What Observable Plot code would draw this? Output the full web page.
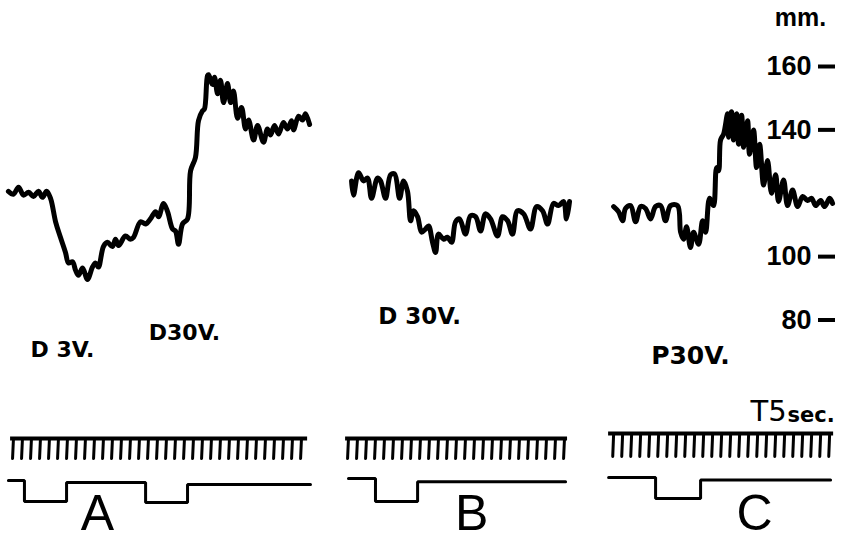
<!DOCTYPE html>
<html>
<head>
<meta charset="utf-8">
<script src="https://cdn.jsdelivr.net/npm/d3@7"></script>
<script src="https://cdn.jsdelivr.net/npm/@observablehq/plot@0.6"></script>
<style>
  html, body { margin: 0; padding: 0; background: #fff; }
  #chart { width: 845px; height: 540px; overflow: hidden; }
  #chart svg { display: block; background: #fff; }
</style>
</head>
<body>
<div id="chart"></div>
<script>
// ---------- data ----------
const panels = ["A", "B", "C"];
const panelOffset = [0, 185, 330];           // start of each recording on the shared time axis (s)

// blood-pressure traces: local time (s) and pressure (mm Hg)
const traceA_t = [4.4,7.2,10.0,12.8,15.6,18.3,21.1,23.3,25.6,27.8,30.6,33.3,36.1,37.8,40.0,41.7,43.3,45.6,48.3,51.1,52.8,54.4,57.2,59.4,62.2,63.9,65.6,69.4,72.2,73.9,77.8,80.6,83.3,86.1,87.8,90.6,92.8,95.6,97.2,98.9,101.1,103.9,105.6,108.3,110.0,112.2,113.3,115.0,115.6,117.8,118.9,120.6,122.2,123.9,126.1,127.8,129.4,131.7,133.9,136.1,137.8,140.6,142.8,146.1,148.3,150.0,152.2,154.4,157.2,159.4,161.7,162.8,165.6,167.8,169.4,171.7];
const traceA_mm = [120.6,119.7,121.9,119.4,120.3,119.0,120.6,118.7,120.6,118.4,111.0,106.1,101.3,98.0,98.4,95.7,94.1,96.4,92.8,96.7,98.0,96.7,103.2,104.5,103.2,105.5,103.5,106.5,105.5,106.1,111.0,110.3,111.9,114.2,112.6,116.8,114.2,108.7,108.1,103.9,110.3,111.9,127.1,131.3,142.9,146.0,146.6,157.1,157.4,154.3,156.6,151.4,155.7,148.6,154.6,148.6,152.3,143.7,147.1,140.3,143.1,136.8,141.4,136.1,140.3,138.4,141.4,138.7,142.3,140.3,142.9,140.0,144.3,143.1,145.1,141.7];

const traceB_t = [10.0,11.1,13.9,16.7,18.9,21.1,24.4,26.1,28.9,31.7,33.9,36.7,38.9,41.1,42.8,44.4,46.7,48.9,51.1,52.8,55.0,56.7,58.3,61.1,63.3,65.6,67.8,70.0,73.3,76.1,78.9,81.7,84.4,87.2,91.1,93.9,96.7,99.4,102.2,105.6,109.4,112.8,116.1,118.9,122.2,125.0,127.8,129.4,131.1];
const traceB_mm = [123.9,119.4,126.5,123.9,124.8,118.4,124.8,123.9,118.4,125.8,126.1,118.4,123.9,120.6,111.3,114.5,112.6,107.7,108.7,109.7,104.5,101.3,107.1,105.5,106.1,104.5,111.0,111.9,107.1,112.9,112.6,108.1,113.5,111.9,106.5,112.6,111.3,107.1,114.5,113.5,108.7,115.8,114.5,110.3,116.8,116.1,117.4,111.9,117.4];

const traceC_t = [10.6,13.3,15.6,17.2,20.0,22.8,25.6,28.3,31.1,33.9,36.7,39.4,42.2,46.1,47.8,49.4,51.1,53.3,55.0,57.8,60.0,61.7,63.9,66.1,67.8,68.9,70.0,71.7,73.9,74.4,76.1,77.2,78.9,80.0,81.7,82.8,85.0,86.1,88.3,90.0,91.7,93.9,96.1,98.3,100.6,102.2,105.0,107.2,110.0,112.8,115.6,118.3,120.6,122.8,125.6,127.8,130.6,132.2];
const traceC_mm = [115.8,114.2,111.3,115.2,116.1,111.0,115.8,115.2,111.9,115.8,116.1,111.3,116.1,116.1,107.7,105.5,109.4,102.9,107.7,103.9,111.3,107.7,118.4,116.1,128.1,127.1,136.8,138.7,145.1,137.7,145.7,136.8,145.1,135.5,144.6,134.5,142.9,132.3,140.0,128.1,135.5,122.6,130.3,120.0,125.8,117.4,124.2,116.1,121.0,115.8,119.0,117.7,118.4,116.1,117.7,115.8,118.4,116.8];

// pressure axis
const yTicks = [80, 100, 140, 160];

// stimulus signal (step trace): event times (s) and signal level (1 = off, 0 = on)
const stimA_t = [4.4, 13.3, 36.7, 80.6, 103.9, 172.2];
const stimA_v = [1.03, 0.05, 0.94, 0.0, 0.84, 0.84];
const stimB_t = [8.3, 23.3, 46.7, 128.9];
const stimB_v = [1.13, 0.05, 0.97, 0.97];
const stimC_t = [7.8, 33.9, 58.9, 131.1];
const stimC_v = [1.17, 0.19, 1.05, 1.05];

// time marker (every 5 s)
const markerStep = 5;
const markerFirst = [7.2, 8.3, 10.6];
const markerCount = [33, 25, 25];
const markerLineStart = [5.6, 6.7, 7.8];
const markerLineEnd = [170.6, 130.0, 132.8];
const markerTop = [3.0, 3.0, 3.23];
const markerBottom = [2.06, 2.06, 2.16];

// annotations
const stimLabels = ["D 3V.", "D30V.", "D 30V.", "P30V."];
const stimLabelPanel = [0, 0, 1, 2];
const stimLabelT = [34.4, 102.2, 47.8, 53.3];
const stimLabelMm = [70.4, 75.8, 81.1, 68.5];
const stimLabelSize = [22, 22, 23, 25];
const letterT = [53.9, 76.7, 88.9];

// ---------- build tables ----------
const traces = [[traceA_t, traceA_mm], [traceB_t, traceB_mm], [traceC_t, traceC_mm]];
const traceData = traces.flatMap(([ts, ms], p) =>
  ts.map((t, i) => ({panel: panels[p], time: panelOffset[p] + t, mm: ms[i]})));

const stims = [[stimA_t, stimA_v], [stimB_t, stimB_v], [stimC_t, stimC_v]];
const stimData = stims.flatMap(([ts, vs], p) =>
  ts.map((t, i) => ({panel: panels[p], time: panelOffset[p] + t, level: vs[i]})));

const markerTicks = panels.flatMap((name, p) =>
  d3.range(markerCount[p]).map(k => ({
    panel: name,
    time: panelOffset[p] + markerFirst[p] + k * markerStep,
    top: markerTop[p], bottom: markerBottom[p]
  })));
const markerLines = panels.map((name, p) => ({
  panel: name, t1: panelOffset[p] + markerLineStart[p], t2: panelOffset[p] + markerLineEnd[p], level: markerTop[p]
}));

const labelData = stimLabels.map((s, i) => ({
  text: s, time: panelOffset[stimLabelPanel[i]] + stimLabelT[i], mm: stimLabelMm[i], size: stimLabelSize[i]
}));

const panelLetters = panels.map((name, p) => ({
  text: name, time: panelOffset[p] + letterT[p], level: -1.27
}));

const FONT = "DejaVu Sans, Liberation Sans, sans-serif";
const NUMFONT = "Liberation Sans, Arial, sans-serif";

// ---------- top: pressure traces ----------
const topPlot = Plot.plot({
  width: 845, height: 380,
  marginLeft: 0, marginRight: 0, marginTop: 0, marginBottom: 0,
  style: {fontFamily: FONT, background: "#fff", color: "#000"},
  x: {domain: [0, 469.4], range: [0, 845], axis: null},
  y: {domain: [80, 160], range: [319.5, 66], label: null},
  marks: [
    Plot.axisY(yTicks, {
      anchor: "left", dx: 835, tickSize: 17, tickPadding: 7, strokeWidth: 4,
      fontSize: 27, fontWeight: "bold", fontFamily: NUMFONT, label: null, tickFormat: d => String(d)
    }),
    Plot.text(["mm."], {x: [panelOffset[2] + 114.4], y: [175.4], text: d => d,
      fontSize: 25, fontWeight: "bold", fontFamily: NUMFONT, fill: "#000"}),
    Plot.line(traceData, {
      x: "time", y: "mm", z: "panel", stroke: "#000", strokeWidth: 5,
      curve: "catmull-rom", strokeLinejoin: "round", strokeLinecap: "round"
    }),
    Plot.text(labelData, {x: "time", y: "mm", text: "text", fontSize: d => d.size,
      fontWeight: "bold", fill: "#000"})
  ]
});

// ---------- bottom: time marker and stimulus signal ----------
const bottomPlot = Plot.plot({
  width: 845, height: 160, margin: 0,
  style: {fontFamily: FONT, background: "#fff", color: "#000"},
  x: {domain: [0, 469.4], range: [0, 845], axis: null},
  y: {domain: [0, 3], range: [122, 58], axis: null},
  marks: [
    Plot.ruleY(markerLines, {y: "level", x1: "t1", x2: "t2", stroke: "#000", strokeWidth: 4}),
    Plot.link(markerTicks, {x1: "time", x2: d => d.time - 0.5, y1: "top", y2: "bottom",
      stroke: "#000", strokeWidth: 3, strokeLinecap: "round"}),
    Plot.line(stimData, {x: "time", y: "level", z: "panel", curve: "step-after",
      stroke: "#000", strokeWidth: 3, strokeLinejoin: "miter"}),
    Plot.text(panelLetters, {x: "time", y: "level", text: "text", lineAnchor: "bottom",
      fontSize: 50, fontFamily: NUMFONT, fill: "#000"}),
    Plot.text(["T5"], {x: [panelOffset[2] + 106.7], y: [4.27], text: d => d, textAnchor: "end",
      fontSize: 29, fill: "#000"}),
    Plot.text(["sec."], {x: [panelOffset[2] + 107.2], y: [4.10], text: d => d, textAnchor: "start",
      fontSize: 21, fontWeight: "bold", fill: "#000"})
  ]
});

const chart = document.getElementById("chart");
chart.appendChild(topPlot);
chart.appendChild(bottomPlot);
</script>
</body>
</html>
